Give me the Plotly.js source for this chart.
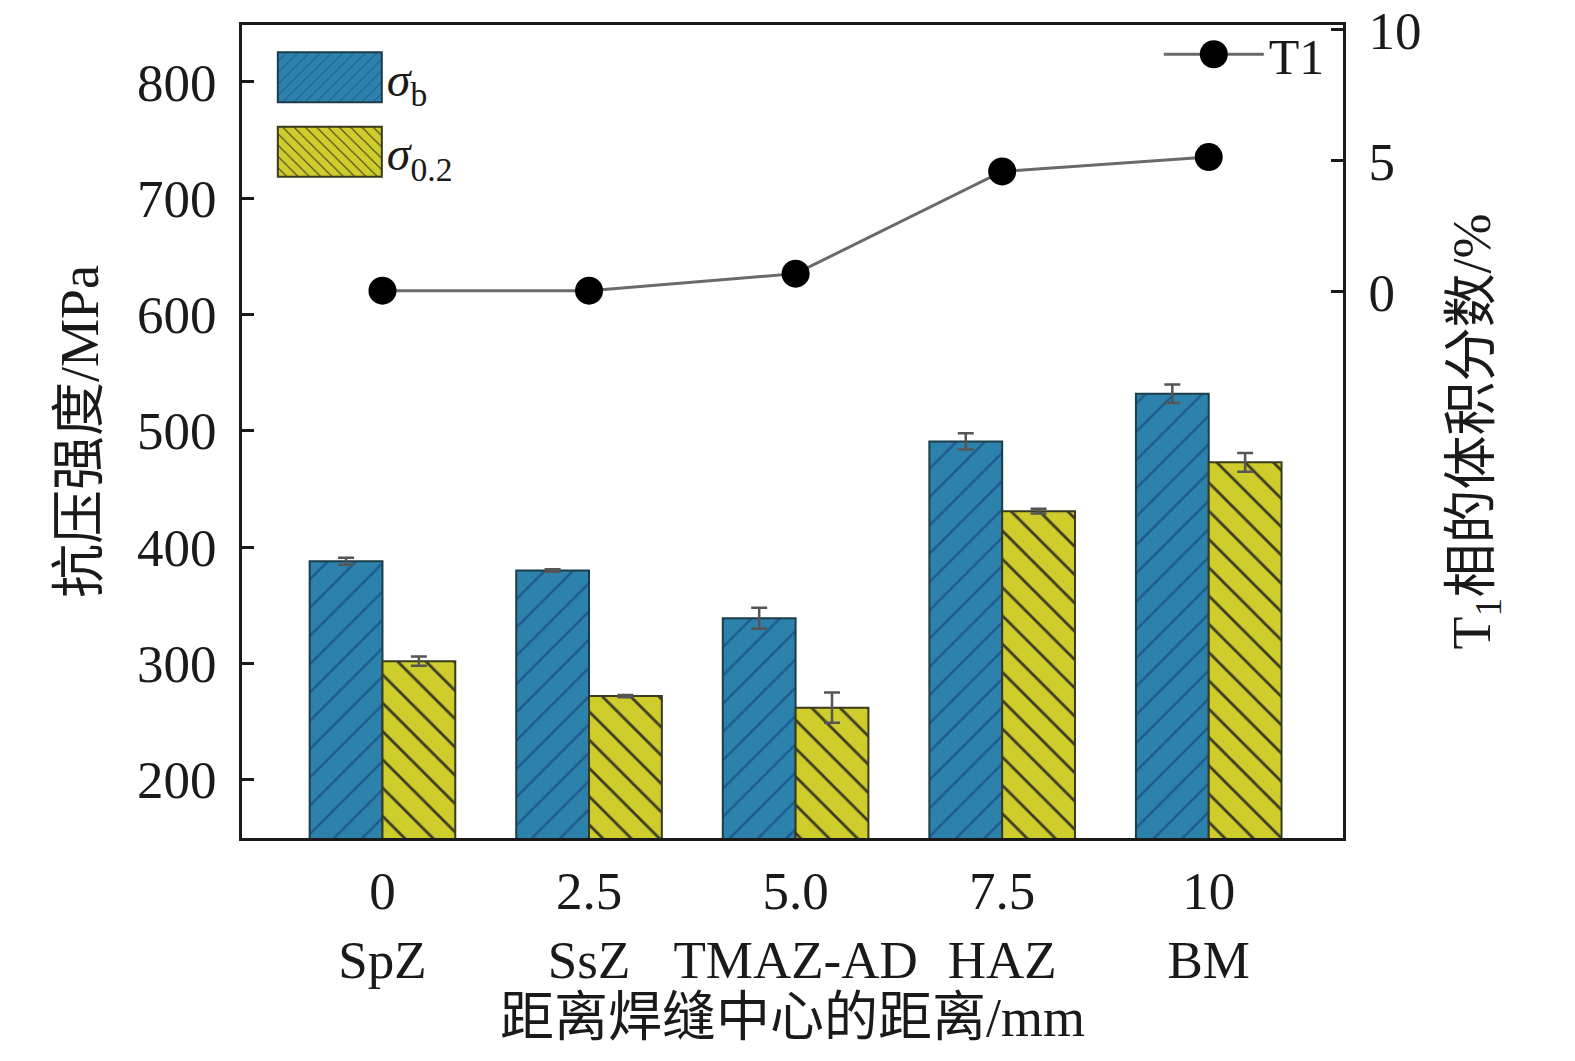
<!DOCTYPE html>
<html><head><meta charset="utf-8">
<script src="https://cdn.plot.ly/plotly-3.0.1.min.js"></script>
<style>body{margin:0;background:#fff}</style>
</head><body>
<div id="chart" style="width:1575px;height:1061px"></div>
<script>
const categories = ["SpZ", "SsZ", "TMAZ-AD", "HAZ", "BM"];
const distances = ["0", "2.5", "5.0", "7.5", "10"];
const sigmaB = [388, 380, 339, 491, 532];
const sigmaBErr = [3, 1, 9, 7, 8];
const sigma02 = [302, 272, 262, 431, 473];
const sigma02Err = [4, 1, 13, 2, 8];
const t1Fraction = [0.05, 0.05, 0.7, 4.6, 5.15];

const fontFam = "Liberation Serif, 'Noto Sans CJK SC', serif";
const tickText = categories.map((c, i) => distances[i] + "<br>" + c);

const traces = [
  {
    type: "bar", x: categories, y: sigmaB, name: "<i>σ</i><sub>b</sub>",
    error_y: {type: "data", array: sigmaBErr, color: "#555", thickness: 2.5, width: 8},
    marker: {color: "#2d82ab", line: {color: "#1c3d4a", width: 2},
      pattern: {shape: "/", fgcolor: "#1d5a8e", bgcolor: "#2d82ab", size: 20, solidity: 0.12}},
    legend: "legend", legendgroup: "b"
  },
  {
    type: "bar", x: categories, y: sigma02, name: "<i>σ</i><sub>0.2</sub>",
    error_y: {type: "data", array: sigma02Err, color: "#555", thickness: 2.5, width: 8},
    marker: {color: "#cfcd2c", line: {color: "#3a3a1e", width: 2},
      pattern: {shape: "\\", fgcolor: "#3d3d22", bgcolor: "#cfcd2c", size: 20, solidity: 0.14}},
    legend: "legend", legendgroup: "y"
  },
  {
    type: "scatter", mode: "lines+markers", x: categories, y: t1Fraction, name: "T1",
    yaxis: "y2", line: {color: "#6a6a6a", width: 3},
    marker: {color: "#000", size: 28},
    legend: "legend2"
  }
];

const layout = {
  width: 1575, height: 1061,
  margin: {l: 242, r: 232, t: 25, b: 223},
  paper_bgcolor: "#fff", plot_bgcolor: "#fff",
  font: {family: fontFam, size: 52, color: "#1a1a1a"},
  barmode: "group", bargap: 0.295, bargroupgap: 0,
  showlegend: true,
  xaxis: {
    type: "category", range: [-0.68, 4.65],
    tickvals: categories, ticktext: tickText,
    showline: true, linewidth: 3, linecolor: "#1a1a1a", mirror: true,
    ticks: "", showgrid: false, zeroline: false,
    ticklabelstandoff: 4,
    tickfont: {family: fontFam, size: 53},
    title: {text: "距离焊缝中心的距离/mm", font: {family: fontFam, size: 54}, standoff: 8}
  },
  yaxis: {
    range: [150, 849], tickvals: [200, 300, 400, 500, 600, 700, 800],
    showline: true, linewidth: 3, linecolor: "#1a1a1a",
    ticks: "inside", ticklen: 12, tickwidth: 3, tickcolor: "#1a1a1a",
    showgrid: false, zeroline: false,
    ticklabelstandoff: 12,
    tickfont: {family: fontFam, size: 53},
    title: {text: "抗压强度/MPa", font: {family: fontFam, size: 54}, standoff: 22}
  },
  yaxis2: {
    overlaying: "y", side: "right",
    range: [-20.84, 10.19], tickvals: [0, 5, 10],
    showline: true, linewidth: 3, linecolor: "#1a1a1a",
    ticks: "inside", ticklen: 12, tickwidth: 3, tickcolor: "#1a1a1a",
    showgrid: false, zeroline: false,
    ticklabelstandoff: 12,
    tickfont: {family: fontFam, size: 53},
    title: {text: "T<sub>1</sub>相的体积分数/%", font: {family: fontFam, size: 54}, standoff: 32}
  },
  legend: {
    x: 0.028, y: 0.982, xanchor: "left", yanchor: "top",
    bgcolor: "rgba(0,0,0,0)", font: {family: fontFam, size: 48},
    itemwidth: 104, tracegroupgap: 9
  },
  legend2: {
    x: 0.988, y: 1.012, xanchor: "right", yanchor: "top",
    bgcolor: "rgba(0,0,0,0)", font: {family: fontFam, size: 50},
    itemwidth: 100
  }
};

Plotly.newPlot("chart", traces, layout, {displayModeBar: false, staticPlot: true}).then(() => {
  // enlarge legend swatches / markers to match the reference
  document.querySelectorAll(".legendpoints path").forEach(p => {
    const d = p.getAttribute("d") || "";
    if (p.closest(".legendbar") || d.indexOf("H-6") >= 0) {
      p.setAttribute("d", "M52,25H-52V-25H52Z");
    } else if (p.classList.contains("point") || p.closest(".scatterpts")) {
      p.setAttribute("d", "M14,0A14,14 0 1,1 0,-14A14,14 0 0,1 14,0Z");
    }
  });
});
</script>
</body></html>
